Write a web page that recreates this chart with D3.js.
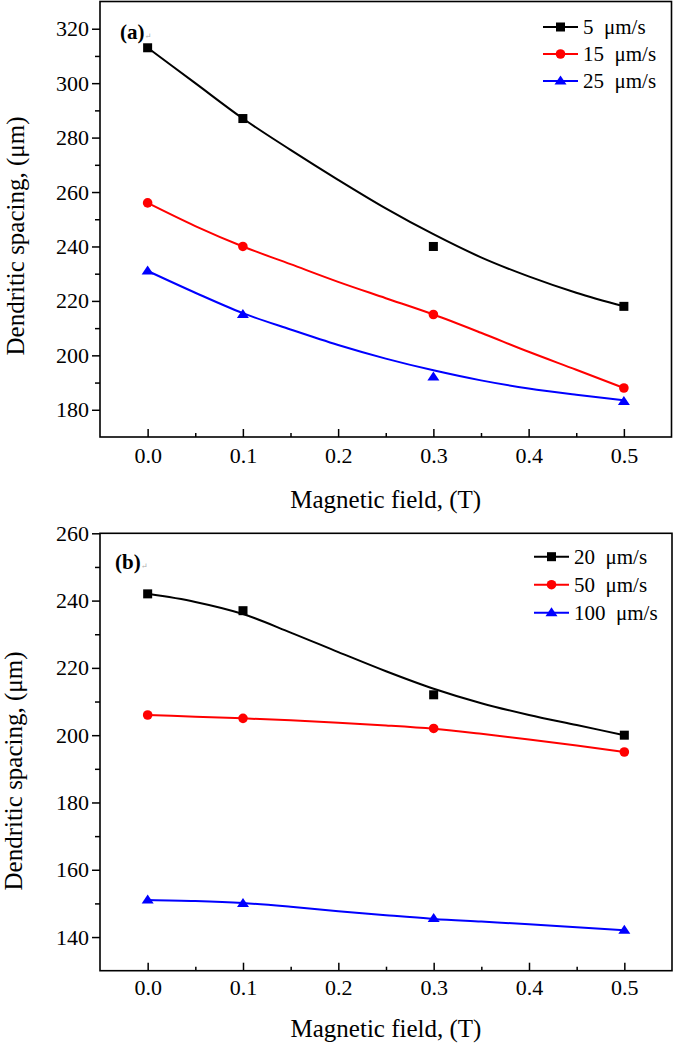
<!DOCTYPE html>
<html>
<head>
<meta charset="utf-8">
<script src="https://cdn.jsdelivr.net/npm/d3@7"></script>
<style>
  html, body { margin: 0; padding: 0; background: #fff; }
  svg { display: block; }
  text { font-family: "Liberation Serif", "Times New Roman", "DejaVu Serif", serif; fill: #000; }
</style>
</head>
<body>
<svg id="chart" width="675" height="1044"></svg>
<script>
// ---------- data ----------
const xPoints = [0, 0.1, 0.3, 0.5];
const xTickValues = [0, 0.1, 0.2, 0.3, 0.4, 0.5];
const xTickLabels = ["0.0", "0.1", "0.2", "0.3", "0.4", "0.5"];
const fitX = [0, 0.05, 0.1, 0.15, 0.2, 0.25, 0.3, 0.35, 0.4, 0.45, 0.5];

// panel (a)
const seriesA = ["5  \u03bcm/s", "15  \u03bcm/s", "25  \u03bcm/s"];
const a5 = [313, 287, 240, 218];
const a15 = [256, 240, 215, 188];
const a25 = [231, 215, 192, 183];
const fitA5 = [313, 300, 287, 275.5, 264.5, 254, 244.5, 236, 229, 223, 218];
const fitA15 = [256, 247.5, 240, 233.5, 227, 221, 215, 208.3, 201.3, 194.7, 188];
const fitA25 = [231, 223, 215.5, 209.5, 203.8, 198.8, 194.5, 190.8, 187.8, 185.5, 183.5];
const yTicksA = [180, 200, 220, 240, 260, 280, 300, 320];
const yMinorA = [190, 210, 230, 250, 270, 290, 310];

// panel (b)
const seriesB = ["20  \u03bcm/s", "50  \u03bcm/s", "100  \u03bcm/s"];
const b20 = [242, 237, 212, 200];
const b50 = [206, 205, 202, 195];
const b100 = [151, 150, 145.5, 142];
const fitB20 = [242, 239.6, 236, 230.5, 224.7, 219, 213.8, 209.5, 206, 203, 200];
const fitB50 = [206, 205.5, 205, 204.4, 203.7, 202.9, 201.9, 200.4, 198.7, 196.9, 195];
const fitB100 = [151, 150.7, 150.1, 149, 147.7, 146.5, 145.4, 144.6, 143.8, 142.9, 142];
const yTicksB = [140, 160, 180, 200, 220, 240, 260];
const yMinorB = [150, 170, 190, 210, 230, 250];

const xMinor = [0.05, 0.15, 0.25, 0.35, 0.45];
const colors = ["#000000", "#ff0000", "#0000ff"];
const markers = ["square", "circle", "triangle"];

// ---------- drawing ----------
const svg = d3.select("#chart");
const SERIF = '"Liberation Serif", "Times New Roman", "DejaVu Serif", serif';

function drawMarker(sel, type, color) {
  if (type === "square") {
    sel.append("rect").attr("x", -4.5).attr("y", -4.5).attr("width", 9).attr("height", 9).attr("fill", color);
  } else if (type === "circle") {
    sel.append("circle").attr("r", 4.8).attr("fill", color);
  } else {
    sel.append("path").attr("d", "M0,-5.5L6,3.5L-6,3.5Z").attr("fill", color);
  }
}

function panel(cfg) {
  const g = svg.append("g");
  const x = d3.scaleLinear().domain([-0.05, 0.55]).range([cfg.left, cfg.right]);
  const y = d3.scaleLinear().domain(cfg.yDomain).range([cfg.bottom, cfg.top]);

  // y axis major
  const ya = g.append("g").attr("transform", `translate(${cfg.left},0)`)
    .call(d3.axisLeft(y).tickValues(cfg.yTicks).tickSizeInner(8).tickSizeOuter(0).tickPadding(3).tickFormat(d3.format("d")));
  ya.attr("font-family", SERIF);
  ya.select(".domain").remove();
  ya.selectAll("line").attr("stroke-width", 1.5);
  ya.selectAll("text").attr("font-size", 22);
  const ym = g.append("g").attr("transform", `translate(${cfg.left},0)`)
    .call(d3.axisLeft(y).tickValues(cfg.yMinor).tickSizeInner(5).tickSizeOuter(0).tickFormat(""));
  ym.select(".domain").remove();
  ym.selectAll("line").attr("stroke-width", 1.5);

  // x axis major (inward ticks)
  const xa = g.append("g").attr("transform", `translate(0,${cfg.bottom})`)
    .call(d3.axisBottom(x).tickValues(xTickValues).tickSizeInner(-8).tickSizeOuter(0).tickPadding(cfg.xPad)
      .tickFormat((d, i) => xTickLabels[i]));
  xa.attr("font-family", SERIF);
  xa.select(".domain").remove();
  xa.selectAll("line").attr("stroke-width", 1.5);
  xa.selectAll("text").attr("font-size", 22);
  const xm = g.append("g").attr("transform", `translate(0,${cfg.bottom})`)
    .call(d3.axisBottom(x).tickValues(xMinor).tickSizeInner(-4).tickSizeOuter(0).tickFormat(""));
  xm.select(".domain").remove();
  xm.selectAll("line").attr("stroke-width", 1.5);

  // frame
  g.append("rect").attr("x", cfg.left).attr("y", cfg.top)
    .attr("width", cfg.right - cfg.left).attr("height", cfg.bottom - cfg.top)
    .attr("fill", "none").attr("stroke", "#000").attr("stroke-width", 1.6);

  // fitted curves
  const line = d3.line().x(d => x(d[0])).y(d => y(d[1])).curve(d3.curveMonotoneX);
  cfg.fits.forEach((f, i) => {
    g.append("path").datum(fitX.map((xv, k) => [xv, f[k]]))
      .attr("d", line).attr("fill", "none").attr("stroke", colors[i]).attr("stroke-width", 2);
  });

  // data markers
  cfg.values.forEach((vals, i) => {
    vals.forEach((v, k) => {
      const m = g.append("g").attr("transform", `translate(${x(xPoints[k])},${y(v)})`);
      drawMarker(m, markers[i], colors[i]);
    });
  });

  // legend
  cfg.names.forEach((name, i) => {
    const ly = cfg.legY + i * cfg.legStep;
    g.append("line").attr("x1", cfg.legX).attr("x2", cfg.legX + 35).attr("y1", ly).attr("y2", ly)
      .attr("stroke", colors[i]).attr("stroke-width", 2);
    const m = g.append("g").attr("transform", `translate(${cfg.legX + 17.5},${ly})`);
    drawMarker(m, markers[i], colors[i]);
    g.append("text").attr("x", cfg.legX + 40).attr("y", ly).attr("dy", "0.35em")
      .attr("font-size", 21).style("white-space", "pre").text(name);
  });

  // panel label
  const lab = g.append("text").attr("x", cfg.labX).attr("y", cfg.labY)
    .attr("font-size", 21).attr("font-weight", "bold");
  lab.append("tspan").text(cfg.label);
  lab.append("tspan").attr("font-size", 8).attr("font-weight", "normal").attr("fill", "#aaa").text("\u21b5");

  // axis titles
  g.append("text").attr("x", (cfg.left + cfg.right) / 2).attr("y", cfg.xTitleY)
    .attr("text-anchor", "middle").attr("font-size", 25).text("Magnetic field, (T)");
  g.append("text").attr("transform", `translate(${cfg.yTitleX},${cfg.yTitleY}) rotate(-90)`)
    .attr("text-anchor", "middle").attr("font-size", 25).text("Dendritic spacing, (\u03bcm)");
}

panel({
  left: 100, right: 671.5, top: 1.5, bottom: 437,
  yDomain: [170, 330], yTicks: yTicksA, yMinor: yMinorA, xPad: 10.5,
  fits: [fitA5, fitA15, fitA25], values: [a5, a15, a25], names: seriesA,
  legX: 543, legY: 27, legStep: 27,
  label: "(a)", labX: 120, labY: 39,
  xTitleY: 508, yTitleX: 24, yTitleY: 236
});

panel({
  left: 100, right: 672, top: 533.3, bottom: 970.7,
  yDomain: [130, 260], yTicks: yTicksB, yMinor: yMinorB, xPad: 9,
  fits: [fitB20, fitB50, fitB100], values: [b20, b50, b100], names: seriesB,
  legX: 534, legY: 556.7, legStep: 28,
  label: "(b)", labX: 115, labY: 569,
  xTitleY: 1036.5, yTitleX: 22, yTitleY: 771
});
</script>
</body>
</html>
